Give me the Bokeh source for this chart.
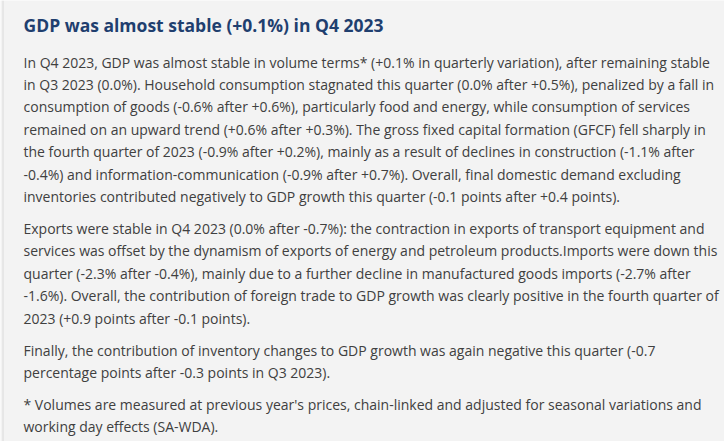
from bokeh.plotting import figure
from bokeh.models import Range1d, Span, ColumnDataSource
from bokeh.core.properties import value
from bokeh.embed import file_html
from bokeh.resources import INLINE

title_text = "GDP was almost stable (+0.1%) in Q4 2023"

paragraphs = [
    [
        "In Q4 2023, GDP was almost stable in volume terms* (+0.1% in quarterly variation), after remaining stable",
        "in Q3 2023 (0.0%). Household consumption stagnated this quarter (0.0% after +0.5%), penalized by a fall in",
        "consumption of goods (-0.6% after +0.6%), particularly food and energy, while consumption of services",
        "remained on an upward trend (+0.6% after +0.3%). The gross fixed capital formation (GFCF) fell sharply in",
        "the fourth quarter of 2023 (-0.9% after +0.2%), mainly as a result of declines in construction (-1.1% after",
        "-0.4%) and information-communication (-0.9% after +0.7%). Overall, final domestic demand excluding",
        "inventories contributed negatively to GDP growth this quarter (-0.1 points after +0.4 points).",
    ],
    [
        "Exports were stable in Q4 2023 (0.0% after -0.7%): the contraction in exports of transport equipment and",
        "services was offset by the dynamism of exports of energy and petroleum products.Imports were down this",
        "quarter (-2.3% after -0.4%), mainly due to a further decline in manufactured goods imports (-2.7% after",
        "-1.6%). Overall, the contribution of foreign trade to GDP growth was clearly positive in the fourth quarter of",
        "2023 (+0.9 points after -0.1 points).",
    ],
    [
        "Finally, the contribution of inventory changes to GDP growth was again negative this quarter (-0.7",
        "percentage points after -0.3 points in Q3 2023).",
    ],
    [
        "* Volumes are measured at previous year's prices, chain-linked and adjusted for seasonal variations and",
        "working day effects (SA-WDA).",
    ],
]

W, H = 724, 441
BG = "#f3f3f3"
LEFT = 23
LINE_H = 22.4
PARA_GAP = 9.6
FIRST_Y = 61.5

xs, ys, texts = [], [], []
y = FIRST_Y
for para in paragraphs:
    for line in para:
        xs.append(LEFT)
        ys.append(y)
        texts.append(line)
        y += LINE_H
    y += PARA_GAP

p = figure(width=W, height=H, output_backend="svg", toolbar_location=None,
           x_range=Range1d(0, W), y_range=Range1d(H, 0),
           min_border=0, min_border_left=0, min_border_right=0,
           min_border_top=0, min_border_bottom=0)
p.axis.visible = False
p.xaxis.visible = False
p.yaxis.visible = False
p.grid.visible = False
p.outline_line_color = None
p.background_fill_color = BG
p.border_fill_color = BG

p.add_layout(Span(location=2.5, dimension="height", line_color="#dadada", line_width=1))

p.text(x=[LEFT], y=[24], text=[title_text], text_font=value("Open Sans"),
       text_font_size="17.5px", text_font_style="bold", text_color="#1f3f6f",
       text_baseline="middle", text_align="left")

src = ColumnDataSource(dict(x=xs, y=ys, text=texts))
p.text(x="x", y="y", text="text", source=src, text_font=value("Open Sans"),
       text_font_size="14px", text_color="#404040",
       text_baseline="middle", text_align="left")

html = file_html(p, INLINE)
html = html.replace("<body>", '<body style="margin:0;background-color:%s;">' % BG, 1)
open("out.html", "w").write(html)
